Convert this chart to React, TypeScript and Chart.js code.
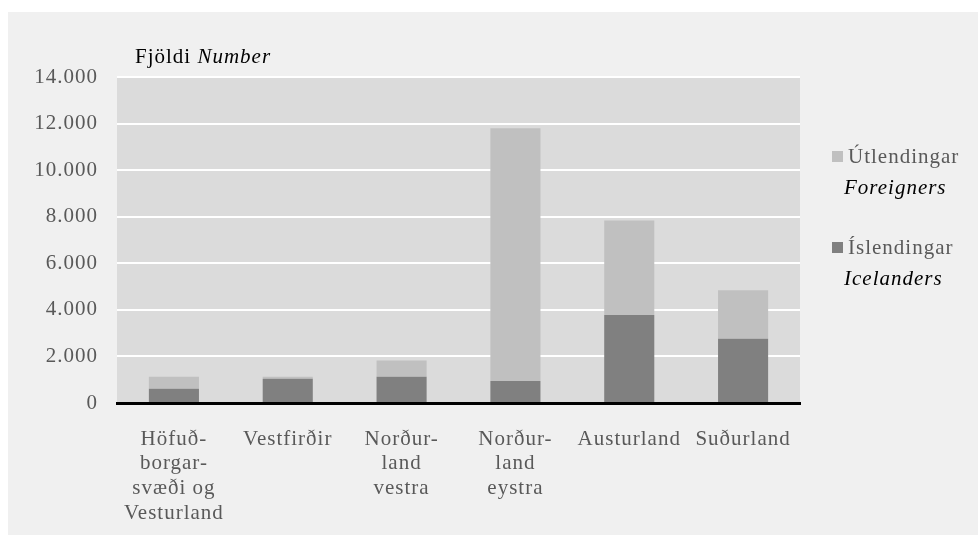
import React, { useEffect, useRef } from "react";
import { Chart, registerables } from "chart.js";

Chart.register(...registerables);

const categories: (string | string[])[] = [
  ["Höfuð-", "borgar-", "svæði og", "Vesturland"],
  "Vestfirðir",
  ["Norður-", "land", "vestra"],
  ["Norður-", "land", "eystra"],
  "Austurland",
  "Suðurland",
];
const icelanders = [610, 1040, 1130, 950, 3780, 2760];
const foreigners = [520, 90, 690, 10850, 4060, 2080];
const seriesIs = ["Íslendingar", "Icelanders"];
const seriesFor = ["Útlendingar", "Foreigners"];
const yTitle = ["Fjöldi ", "Number"];

const FONT = "'Liberation Serif', 'Times New Roman', serif";
const SIZE = 21;
const SPACING = "1px";

const fmt = (v: number) => String(v).replace(/\B(?=(\d{3})+(?!\d))/g, ".");

const setSpacing = (chart: any) => {
  if (chart.ctx) chart.ctx.letterSpacing = SPACING;
};

const decor = {
  id: "decor",
  beforeInit: setSpacing,
  beforeUpdate: setSpacing,
  beforeLayout: setSpacing,
  beforeDraw(chart: any) {
    setSpacing(chart);
    const { ctx, chartArea: a } = chart;
    ctx.save();
    ctx.fillStyle = "#dbdbdb";
    ctx.fillRect(a.left, a.top, a.right - a.left, a.bottom - a.top);
    ctx.restore();
  },
  afterDraw(chart: any) {
    const { ctx } = chart;
    ctx.save();
    ctx.letterSpacing = SPACING;
    // title
    ctx.textBaseline = "alphabetic";
    ctx.textAlign = "left";
    ctx.fillStyle = "#000";
    ctx.font = `${SIZE}px ${FONT}`;
    ctx.fillText(yTitle[0], 127, 51);
    const w = ctx.measureText(yTitle[0]).width;
    ctx.font = `italic ${SIZE}px ${FONT}`;
    ctx.fillText(yTitle[1], 127 + w, 51);

    // legend
    const items = [
      { color: "#c0c0c0", lab: seriesFor, y: 145 },
      { color: "#808080", lab: seriesIs, y: 236 },
    ];
    ctx.textBaseline = "middle";
    for (const it of items) {
      ctx.fillStyle = it.color;
      ctx.fillRect(824, it.y - 6, 11, 11);
      ctx.fillStyle = "#595959";
      ctx.font = `${SIZE}px ${FONT}`;
      ctx.fillText(it.lab[0], 840, it.y);
      ctx.fillStyle = "#000";
      ctx.font = `italic ${SIZE}px ${FONT}`;
      ctx.fillText(it.lab[1], 836, it.y + 31);
    }
    ctx.restore();
  },
};

export default function App() {
  const ref = useRef<HTMLCanvasElement>(null);
  useEffect(() => {
    const chart = new Chart(ref.current!, {
      type: "bar",
      data: {
        labels: categories,
        datasets: [
          { label: seriesIs.join(" "), data: icelanders, backgroundColor: "#808080" },
          { label: seriesFor.join(" "), data: foreigners, backgroundColor: "#c0c0c0" },
        ],
      },
      options: {
        animation: false,
        responsive: false,
        layout: { padding: { top: 65, right: 178, left: 0, bottom: 0 } },
        plugins: { legend: { display: false }, tooltip: { enabled: false } },
        datasets: { bar: { categoryPercentage: 1, barPercentage: 0.44 } },
        scales: {
          x: {
            stacked: true,
            grid: { display: false, drawTicks: false },
            border: { display: true, color: "#000", width: 3 },
            ticks: {
              color: "#595959",
              font: { family: FONT, size: SIZE, lineHeight: 1.17 },
              padding: 24,
              maxRotation: 0,
              autoSkip: false,
            },
            afterFit: (s: any) => {
              s.height = 132;
            },
          },
          y: {
            stacked: true,
            min: 0,
            max: 14000,
            grid: { color: "#ffffff", lineWidth: 2, drawTicks: false },
            border: { display: false },
            ticks: {
              stepSize: 2000,
              color: "#595959",
              font: { family: FONT, size: SIZE },
              padding: 19,
              callback: (v: any) => fmt(Number(v)),
            },
            afterFit: (s: any) => {
              s.width = 109;
            },
          },
        },
      },
      plugins: [decor],
    });
    return () => chart.destroy();
  }, []);
  return (
    <div
      style={{
        position: "fixed",
        left: 8,
        top: 12,
        width: 970,
        height: 523,
        background: "#f0f0f0",
      }}
    >
      <canvas ref={ref} width={970} height={523} />
    </div>
  );
}
